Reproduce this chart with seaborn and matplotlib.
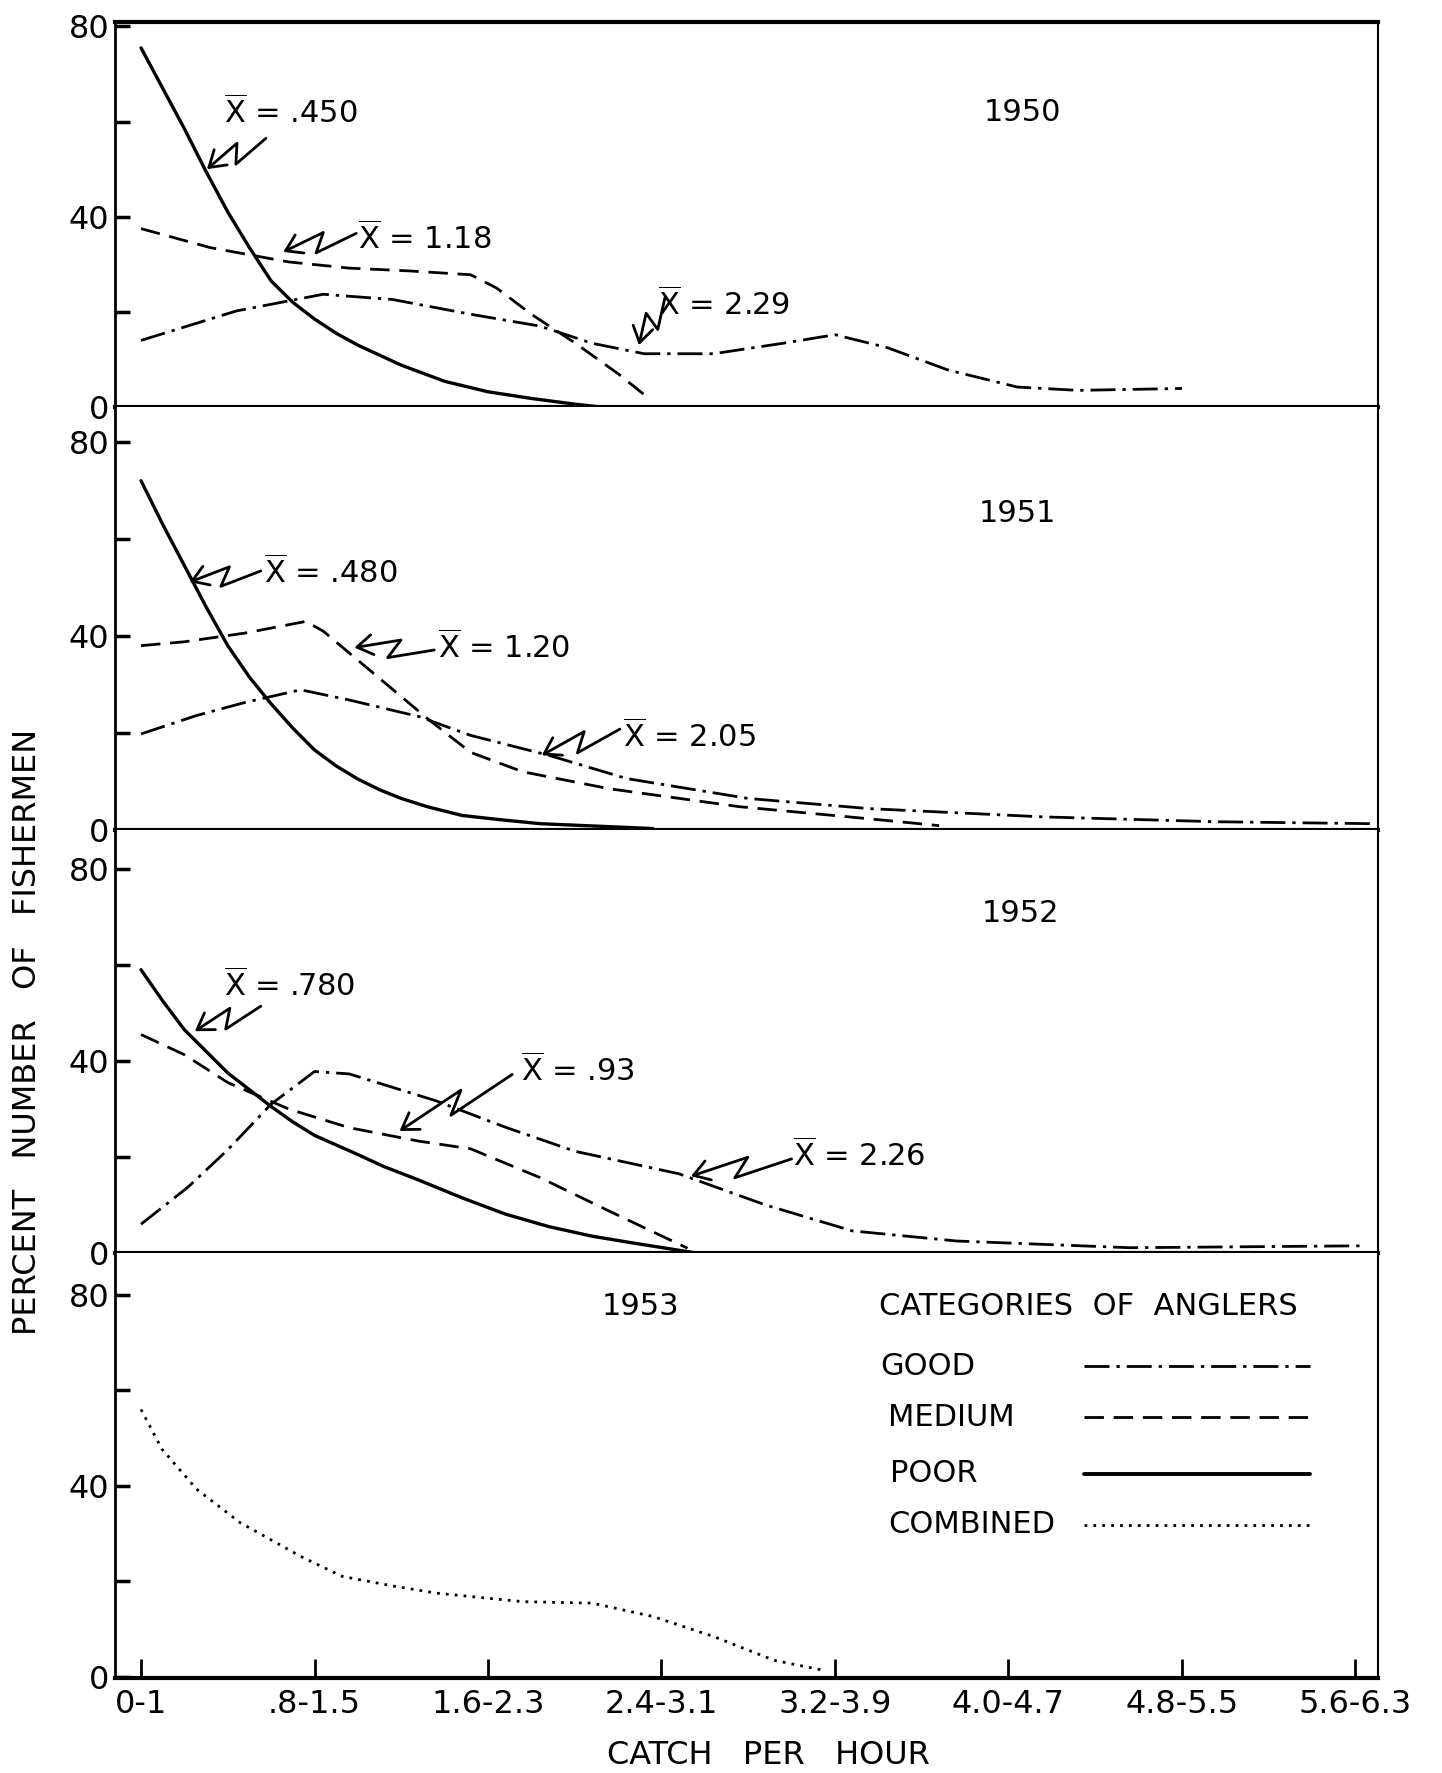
import matplotlib
matplotlib.use("Agg")
import matplotlib.pyplot as plt
from matplotlib.patches import FancyArrowPatch
from matplotlib.path import Path
import numpy as np
import pandas as pd
import seaborn as sns

# ---------------- data ----------------
categories = ["0-1", ".8-1.5", "1.6-2.3", "2.4-3.1", "3.2-3.9", "4.0-4.7", "4.8-5.5", "5.6-6.3"]
years = ["1950", "1951", "1952", "1953"]

# 1950
x1950_poor = [0, 0.125, 0.25, 0.375, 0.5, 0.625, 0.75, 0.875, 1.0, 1.125, 1.25, 1.5, 1.75, 2.0, 2.25, 2.5, 2.65]
y1950_poor = [75.5, 67, 58.5, 49.5, 41, 33.5, 26.5, 22, 18.5, 15.5, 13, 8.8, 5.4, 3.2, 1.8, 0.6, 0]
x1950_med = [0, 0.4, 0.85, 1.2, 1.55, 1.9, 2.05, 2.25, 2.5, 2.75, 2.9]
y1950_med = [37.5, 33.5, 30.5, 29.2, 28.6, 27.8, 25, 19.5, 13.5, 7, 2.6]
x1950_good = [0, 0.55, 1.05, 1.45, 1.9, 2.3, 2.6, 2.9, 3.3, 3.7, 4.0, 4.3, 4.65, 5.05, 5.4, 6.0]
y1950_good = [14, 20.2, 23.7, 22.6, 19.5, 17, 13.4, 11.2, 11.2, 13.4, 15.2, 12.5, 7.8, 4.2, 3.5, 3.9]

# 1951
x1951_poor = [0, 0.125, 0.25, 0.375, 0.5, 0.625, 0.75, 0.875, 1.0, 1.125, 1.25, 1.375, 1.5, 1.65, 1.85, 2.05, 2.3, 2.95]
y1951_poor = [72, 63, 54.5, 46, 38, 31.5, 26, 21, 16.5, 13.2, 10.5, 8.3, 6.5, 4.8, 3, 2.2, 1.3, 0.3]
x1951_med = [0, 0.25, 0.6, 0.95, 1.05, 1.35, 1.65, 1.9, 2.2, 2.7, 3.45, 4.2, 4.6]
y1951_med = [38, 38.8, 40.6, 43, 41, 32, 23, 16, 12, 8.5, 4.8, 2.3, 0.9]
x1951_good = [0, 0.32, 0.6, 0.92, 1.2, 1.6, 1.9, 2.35, 2.8, 3.5, 4.2, 5.2, 6.2, 7.1]
y1951_good = [19.8, 23.6, 26.3, 28.9, 26.8, 23.4, 19.5, 15.4, 10.6, 6.5, 4.4, 2.7, 1.7, 1.3]

# 1952
x1952_poor = [0, 0.125, 0.25, 0.375, 0.5, 0.625, 0.75, 0.875, 1.0, 1.125, 1.25, 1.4, 1.6, 1.85, 2.1, 2.35, 2.6, 2.85, 3.2]
y1952_poor = [59, 52.5, 46.5, 42, 37.5, 34, 30.5, 27.3, 24.5, 22.5, 20.5, 18, 15.2, 11.5, 8.1, 5.5, 3.5, 2, 0]
x1952_med = [0, 0.25, 0.5, 0.85, 1.2, 1.6, 1.9, 2.3, 2.7, 3.15]
y1952_med = [45.5, 41.3, 35.5, 30, 26.1, 23.3, 21.7, 15.7, 8.7, 1]
x1952_good = [0, 0.27, 0.5, 0.75, 1.0, 1.2, 1.7, 2.1, 2.5, 3.1, 3.6, 4.1, 4.7, 5.7, 7.05]
y1952_good = [6, 13.7, 21.5, 31, 37.8, 37.3, 31.7, 26.2, 21.2, 16.5, 10, 4.6, 2.5, 1.1, 1.5]

# 1953
x1953_comb = [0, 0.12, 0.32, 0.57, 0.92, 1.16, 1.45, 1.7, 2.2, 2.6, 2.95, 3.3, 3.65, 3.95]
y1953_comb = [56, 47.7, 39.3, 32.3, 25.2, 21, 19, 17.5, 15.7, 15.4, 12.6, 8.4, 3.4, 1.2]

legend_labels = ["GOOD", "MEDIUM", "POOR", "COMBINED"]
mean_labels = {
    "1950": [".450", "1.18", "2.29"],
    "1951": [".480", "1.20", "2.05"],
    "1952": [".780", ".93", "2.26"],
}

# ---------------- style ----------------
sns.set_style("white")
plt.rcParams["font.family"] = ["DejaVu Sans"]
plt.rcParams["mathtext.fontset"] = "dejavusans"
plt.rcParams["text.color"] = "black"
plt.rcParams["xtick.color"] = "black"
plt.rcParams["ytick.color"] = "black"
plt.rcParams["axes.labelcolor"] = "black"

LW = 2.0
STYLES = {
    "GOOD": (0, (9, 2.5, 1.2, 2.5)),
    "MEDIUM": (0, (7, 3.5)),
    "POOR": "-",
    "COMBINED": (0, (1, 2.2)),
}
FS = 22

fig = plt.figure(figsize=(14.42, 17.73), dpi=100)
left, width = 0.07975, 0.87587
panel_rects = [
    (0.77044, 0.21732),
    (0.53187, 0.23857),
    (0.29329, 0.23858),
    (0.05358, 0.23971),
]
ylims = [(0, 81), (0, 87.2), (0, 88.1), (-0.3, 88.8)]
axes = []
for (b, h), yl in zip(panel_rects, ylims):
    ax = fig.add_axes([left, b, width, h])
    ax.set_xlim(-0.15, 7.13)
    ax.set_ylim(*yl)
    ax.set_facecolor("white")
    axes.append(ax)

series = {
    "1950": [("GOOD", x1950_good, y1950_good), ("MEDIUM", x1950_med, y1950_med), ("POOR", x1950_poor, y1950_poor)],
    "1951": [("GOOD", x1951_good, y1951_good), ("MEDIUM", x1951_med, y1951_med), ("POOR", x1951_poor, y1951_poor)],
    "1952": [("GOOD", x1952_good, y1952_good), ("MEDIUM", x1952_med, y1952_med), ("POOR", x1952_poor, y1952_poor)],
    "1953": [("COMBINED", x1953_comb, y1953_comb)],
}

for ax, yr in zip(axes, years):
    for cat, xs, ys in series[yr]:
        sns.lineplot(x=xs, y=ys, ax=ax, color="black", lw=LW if cat != "POOR" else 2.4,
                     linestyle=STYLES[cat], estimator=None, sort=False, legend=False)
    ax.set_xlabel("")
    ax.set_ylabel("")
    ax.set_yticks([0, 20, 40, 60, 80])
    ax.set_yticklabels(["0", "", "40", "", "80"])
    ax.tick_params(axis="y", left=True, direction="in", length=11, width=2.5, pad=4,
                   labelsize=23, colors="black")
    ax.set_xticks(range(len(categories)))
    for s in ["left", "right", "top", "bottom"]:
        ax.spines[s].set_color("black")
    ax.spines["left"].set_linewidth(2.0)
    ax.spines["right"].set_linewidth(1.5)
    ax.spines["bottom"].set_linewidth(3.0)
    ax.spines["top"].set_visible(False)

axes[0].spines["top"].set_visible(True)
axes[0].spines["top"].set_linewidth(3.0)
for ax in axes[:3]:
    ax.tick_params(axis="x", which="both", bottom=False, labelbottom=False)
axes[3].set_xticklabels(categories)
axes[3].tick_params(axis="x", bottom=True, direction="in", length=14, width=2, pad=8,
                    labelsize=23, colors="black")


# ---------------- annotations ----------------
def squiggle_arrow(ax, tail, tip, amp=9.0):
    """Hand-drawn style lightning-bolt arrow from tail to tip (data coords)."""
    to_disp = ax.transData.transform
    p0 = np.array(to_disp(tail))
    p1 = np.array(to_disp(tip))
    d = p1 - p0
    n = np.array([-d[1], d[0]]) / (np.hypot(*d) + 1e-9)
    a_pt = p0 + 0.58 * d + amp * n
    b_pt = p0 + 0.42 * d - amp * n
    pts = np.vstack([p0, a_pt, b_pt, p1])
    pts_data = ax.transData.inverted().transform(pts)
    path = Path(pts_data, [Path.MOVETO, Path.LINETO, Path.LINETO, Path.LINETO])
    arr = FancyArrowPatch(path=path, arrowstyle="->,head_length=7,head_width=4.5",
                          lw=2.0, color="black", transform=ax.transData,
                          shrinkA=0, shrinkB=0, mutation_scale=1.6)
    ax.add_patch(arr)


def mean_note(ax, label, text_xy, tail, tip):
    ax.text(text_xy[0], text_xy[1], r"$\overline{\mathrm{X}}$ = " + label, fontsize=FS,
            ha="left", va="center", color="black")
    squiggle_arrow(ax, tail, tip)


a = axes[0]
mean_note(a, mean_labels["1950"][0], (0.48, 62), (0.72, 56.5), (0.38, 50))
mean_note(a, mean_labels["1950"][1], (1.25, 35.5), (1.24, 36.5), (0.82, 32.6))
mean_note(a, mean_labels["1950"][2], (2.98, 21.5), (3.02, 23), (2.87, 13))
a.text(5.08, 62, years[0], fontsize=FS, ha="center", va="center")

a = axes[1]
mean_note(a, mean_labels["1951"][0], (0.71, 53), (0.69, 53.4), (0.28, 51.1))
mean_note(a, mean_labels["1951"][1], (1.71, 37.6), (1.69, 37.1), (1.23, 37.6))
mean_note(a, mean_labels["1951"][2], (2.78, 19.3), (2.76, 20.8), (2.31, 15.4))
a.text(5.05, 65.2, years[1], fontsize=FS, ha="center", va="center")

a = axes[2]
mean_note(a, mean_labels["1952"][0], (0.48, 55.8), (0.69, 51.4), (0.31, 46.2))
mean_note(a, mean_labels["1952"][1], (2.19, 37.9), (2.14, 37.2), (1.49, 25.4))
mean_note(a, mean_labels["1952"][2], (3.76, 20.2), (3.75, 19.6), (3.17, 16.0))
a.text(5.07, 70.7, years[2], fontsize=FS, ha="center", va="center")

a = axes[3]
a.text(2.88, 77.6, years[3], fontsize=FS, ha="center", va="center")
a.text(0.605, 0.875, "CATEGORIES  OF  ANGLERS", transform=a.transAxes, fontsize=FS,
       ha="left", va="center")
leg_y = [0.734, 0.614, 0.481, 0.361]
leg_tx = [0.606, 0.612, 0.614, 0.612]
for lab, yy, tx in zip(legend_labels, leg_y, leg_tx):
    a.text(tx, yy, lab, transform=a.transAxes, fontsize=FS, ha="left", va="center")
    a.plot([0.767, 0.946], [yy, yy], transform=a.transAxes, color="black",
           lw=LW if lab != "POOR" else 2.8, linestyle=STYLES[lab])

fig.text(0.0194, 0.418, "PERCENT   NUMBER   OF   FISHERMEN", rotation=90, fontsize=23,
         ha="center", va="center")
fig.text(0.533, 0.0101, "CATCH   PER   HOUR", fontsize=23, ha="center", va="center")

fig.savefig("out.png", dpi=100, facecolor="white")
